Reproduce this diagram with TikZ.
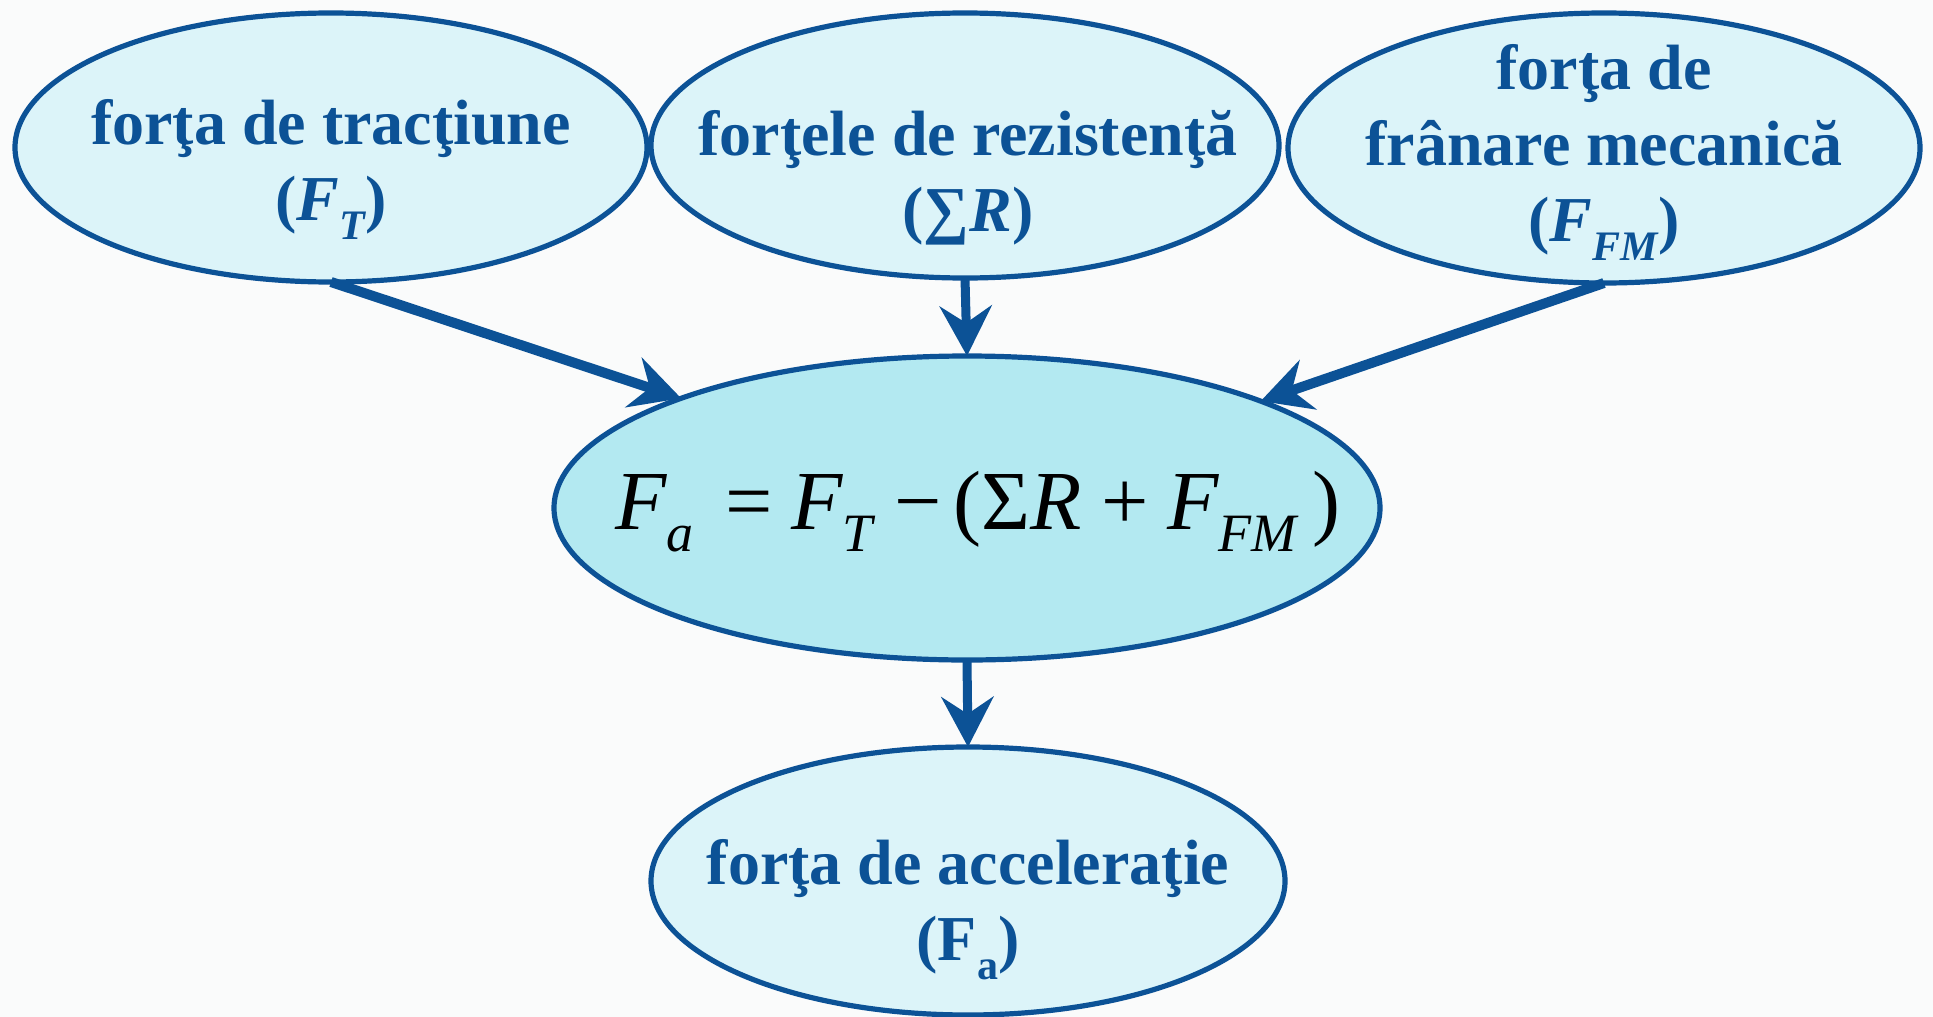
\documentclass[tikz,border=0pt]{standalone}
\usepackage{fontspec}
\setmainfont{Liberation Serif}
\usetikzlibrary{arrows.meta,shapes.geometric}
\definecolor{bgcol}{HTML}{FAFBFB}
\definecolor{dblue}{HTML}{0C5296}
\definecolor{lightfill}{HTML}{DCF4F9}
\definecolor{midfill}{HTML}{B3E9F1}
\newcommand{\lsub}[1]{\raisebox{-9.5pt}{\fontsize{21}{21}\selectfont #1}}
\newcommand{\msub}[1]{\raisebox{-11pt}{\fontsize{27}{27}\selectfont\itshape #1}}
\tikzset{
  oval/.style={ellipse, draw=dblue, line width=2.6pt, fill=lightfill, inner sep=0pt, outer sep=0pt},
  lbl/.style={text=dblue, font=\fontsize{32}{38}\selectfont\bfseries, align=center, inner sep=0pt},
  conn/.style={draw=dblue, line width=5pt, -{Stealth[length=25pt,width=26pt,inset=8.5pt]}},
  vconn/.style={draw=dblue, line width=4.5pt, -{Stealth[length=25pt,width=26pt,inset=8.5pt]}}
}
\begin{document}
\begin{tikzpicture}[x=0.5pt,y=-0.5pt]
\fill[bgcol] (0,0) rectangle (1933,1017);
\useasboundingbox (0,0) rectangle (1933,1017);
% ellipses
\node[oval, minimum width=316pt, minimum height=134.5pt] (A) at (331,147.5) {};
\node[oval, minimum width=314pt, minimum height=132.5pt] (B) at (965,145.5) {};
\node[oval, minimum width=316pt, minimum height=135pt] (E) at (1604,148) {};
\node[oval, fill=midfill, minimum width=413pt, minimum height=152pt] (C) at (967,508) {};
\node[oval, minimum width=317pt, minimum height=134pt] (D) at (968,881) {};
% labels
\node[lbl] (tA) at (331,169) {forţa de tracţiune\\({\itshape F}\lsub{\itshape T})};
\node[lbl] (tB) at (968,178) {forţele de rezistenţă\\(∑{\itshape R})};
\node[lbl] (tE) at (1604,152) {forţa de\\frânare mecanică\\({\itshape F}\lsub{\itshape FM})};
\node[lbl] (tD) at (968,910) {forţa de acceleraţie\\(F\lsub{a})};
\node[inner sep=0pt, font=\fontsize{42}{50}\selectfont] (tC) at (978,512)
  {{\itshape F}\msub{a}\hspace{16pt}=\hspace{9pt}{\itshape F}\msub{T}\hspace{11pt}−\hspace{6pt}(Σ{\itshape R}\hspace{10pt}+\hspace{9pt}{\itshape F}\msub{FM}\hspace{8pt})};
% connectors
\draw[conn] (A.south) -- (C.159.9);
\draw[conn] (E.south) -- (C.20.1);
\draw[vconn] (B.south) -- (C.north);
\draw[vconn] (C.south) -- (D.north);
\end{tikzpicture}
\end{document}
